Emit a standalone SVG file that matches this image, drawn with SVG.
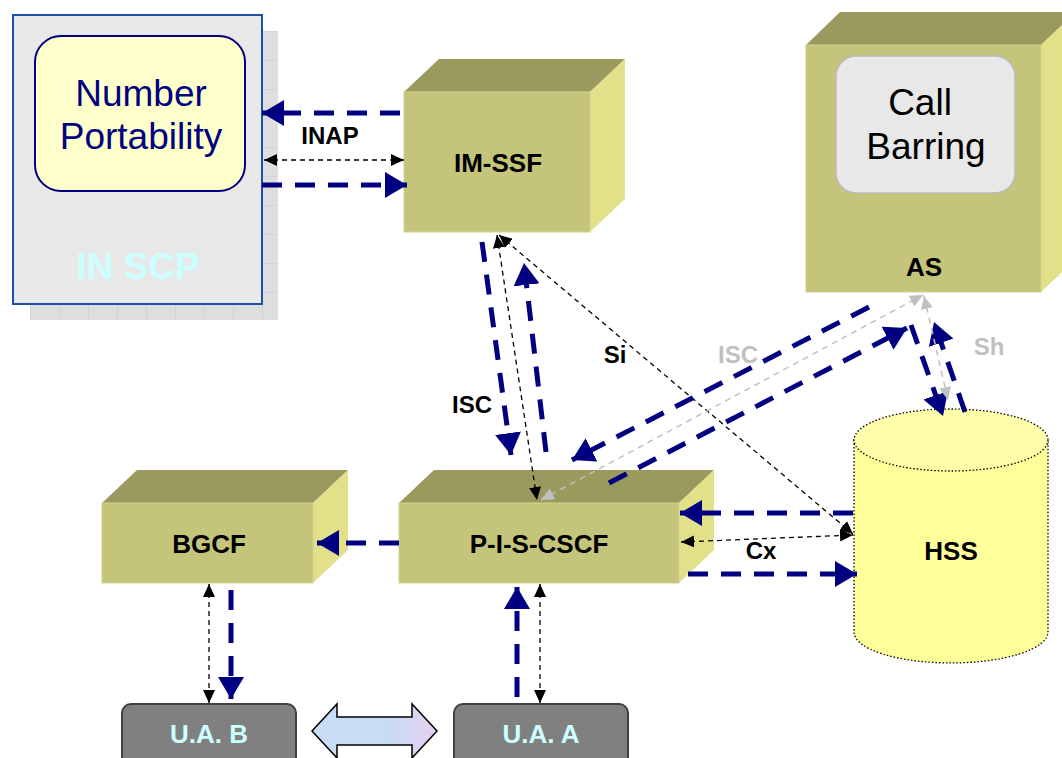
<svg xmlns="http://www.w3.org/2000/svg" width="1062" height="758" viewBox="0 0 1062 758">
<defs>
<style>
.front{fill:#c4c47a;stroke:#d2d290;stroke-width:1}
.top{fill:#9a9a5e}
.side{fill:#e2e18a}
.lbl{font-family:"Liberation Sans",Arial,sans-serif;font-weight:bold;font-size:26px;fill:#000;text-anchor:middle}
.ilbl{font-family:"Liberation Sans",Arial,sans-serif;font-weight:bold;font-size:24px;fill:#000;text-anchor:middle}
.glbl{font-family:"Liberation Sans",Arial,sans-serif;font-weight:bold;font-size:24px;fill:#c0c0c0;text-anchor:middle}
.big{font-family:"Liberation Sans",Arial,sans-serif;font-size:37px;text-anchor:middle}
.navy{stroke:#000080;stroke-width:5;stroke-dasharray:20 13;fill:none;marker-end:url(#an)}
.blk{stroke:#000;stroke-width:1.3;stroke-dasharray:5 4;fill:none;marker-end:url(#ab);marker-start:url(#ab)}
.gry{stroke:#c0c0c0;stroke-width:1.5;stroke-dasharray:6 5;fill:none;marker-end:url(#ag);marker-start:url(#ag)}
.ua{fill:#808080;stroke:#404040;stroke-width:2}
.ualbl{font-family:"Liberation Sans",Arial,sans-serif;font-weight:bold;font-size:26px;fill:#ccffff;text-anchor:middle}
</style>
<marker id="an" markerUnits="userSpaceOnUse" markerWidth="24" markerHeight="26" viewBox="0 0 24 26" refX="22" refY="13" orient="auto"><path d="M0,0 L22,13 L0,26 Z" fill="#000080"/></marker>
<marker id="ab" markerUnits="userSpaceOnUse" markerWidth="14" markerHeight="12" viewBox="0 0 14 12" refX="13" refY="6" orient="auto-start-reverse"><path d="M0,0 L13,6 L0,12 Z" fill="#000"/></marker>
<marker id="ag" markerUnits="userSpaceOnUse" markerWidth="14" markerHeight="12" viewBox="0 0 14 12" refX="13" refY="6" orient="auto-start-reverse"><path d="M0,0 L13,6 L0,12 Z" fill="#c0c0c0"/></marker>
<pattern id="grid" patternUnits="userSpaceOnUse" x="30" y="31" width="29" height="29"><rect width="29" height="29" fill="#dedede"/><path d="M0,0 H29 M0,0 V29" stroke="#c8c8c8" stroke-width="1"/></pattern>
<linearGradient id="dbl" x1="0" y1="0" x2="1" y2="0"><stop offset="0" stop-color="#c8dcf6"/><stop offset="0.6" stop-color="#c8dcf4"/><stop offset="1" stop-color="#e4d0f0"/></linearGradient>
</defs>

<g id="in-scp">
<rect x="30" y="31" width="248" height="289" fill="url(#grid)"/>
<rect x="13" y="15" width="249" height="289" fill="#e8e8e8" stroke="#1f4fa8" stroke-width="2"/>
<text x="138" y="279" font-family="Liberation Sans, Arial, sans-serif" font-weight="bold" font-size="37" fill="#ccffff" text-anchor="middle">IN SCP</text>
</g>
<g id="number-portability">
<rect x="35" y="36" width="210" height="155" rx="26" fill="#ffffcc" stroke="#000080" stroke-width="2"/>
<text class="big" x="141" y="106" fill="#000080">Number</text>
<text class="big" x="141" y="149" fill="#000080">Portability</text>
</g>

<g id="im-ssf">
<polygon class="top" points="404,92 439,59 625,59 590,92"/>
<polygon class="side" points="590,92 625,59 625,199 590,232"/>
<rect class="front" x="404" y="92" width="186" height="140"/>
<text class="lbl" x="498" y="172">IM-SSF</text>
</g>

<g id="as">
<polygon class="top" points="806,45 840,12 1076,12 1041,45"/>
<polygon class="side" points="1041,45 1076,12 1076,259 1041,292"/>
<rect class="front" x="806" y="45" width="235" height="247"/>
<text class="lbl" x="924" y="276">AS</text>
</g>
<g id="call-barring">
<rect x="836" y="56" width="179" height="137" rx="20" fill="#e8e8e8" stroke="#bbbbbb" stroke-width="1.5"/>
<text class="big" x="920" y="115" fill="#000">Call</text>
<text class="big" x="926" y="159" fill="#000">Barring</text>
</g>

<g id="bgcf">
<polygon class="top" points="102,503 137,470 348,470 313,503"/>
<polygon class="side" points="313,503 348,470 348,550 313,583"/>
<rect class="front" x="102" y="503" width="211" height="80"/>
<text class="lbl" x="209" y="553">BGCF</text>
</g>

<g id="p-i-s-cscf">
<polygon class="top" points="399,503 434,470 714,470 679,503"/>
<polygon class="side" points="679,503 714,470 714,550 679,583"/>
<rect class="front" x="399" y="503" width="280" height="80"/>
<text class="lbl" x="539" y="553">P-I-S-CSCF</text>
</g>

<g id="hss">
<path d="M854,440 V632 A97,31 0 0 0 1048,632 V440 Z" fill="#ffff99" stroke="#000" stroke-width="1.3" stroke-dasharray="1.5 2"/>
<ellipse cx="951" cy="440" rx="97" ry="31" fill="#ffffaa" stroke="#000" stroke-width="1.3" stroke-dasharray="1.5 2"/>
<text class="lbl" x="951" y="560">HSS</text>
</g>

<g id="ua-b">
<rect class="ua" x="122" y="704" width="174" height="62" rx="9"/>
<text class="ualbl" x="209" y="743">U.A. B</text>
</g>
<g id="ua-a">
<rect class="ua" x="454" y="704" width="174" height="62" rx="9"/>
<text class="ualbl" x="541" y="743">U.A. A</text>
</g>

<g id="connectors">
<line class="navy" x1="400" y1="113" x2="262" y2="113"/>
<line class="blk" x1="264" y1="160" x2="404" y2="160"/>
<line class="navy" x1="262" y1="185" x2="407" y2="185"/>
<line class="navy" x1="482" y1="242" x2="511" y2="455"/>
<line class="navy" x1="546" y1="452" x2="524" y2="263"/>
<line class="blk" x1="497" y1="235" x2="537" y2="500"/>
<line class="blk" x1="499" y1="235" x2="853" y2="534"/>
<line class="navy" x1="869" y1="307" x2="572" y2="460"/>
<line class="navy" x1="609" y1="483" x2="907" y2="328"/>
<line class="gry" x1="541" y1="500" x2="923" y2="295"/>
<line class="navy" x1="911" y1="325" x2="943" y2="416"/>
<line class="navy" x1="965" y1="412" x2="934" y2="322"/>
<line class="gry" x1="924" y1="296" x2="948" y2="400"/>
<line class="navy" x1="853" y1="513" x2="680" y2="513"/>
<line class="blk" x1="681" y1="542" x2="853" y2="535"/>
<line class="navy" x1="688" y1="574" x2="857" y2="574"/>
<line class="navy" x1="399" y1="543" x2="317" y2="543"/>
<line class="blk" x1="209" y1="584" x2="209" y2="703"/>
<line class="navy" x1="231" y1="590" x2="231" y2="699"/>
<line class="navy" x1="517" y1="697" x2="517" y2="587"/>
<line class="blk" x1="540" y1="584" x2="540" y2="703"/>
<path d="M312,731 L337,704 L337,717 L412,717 L412,704 L437,731 L412,758 L412,745 L337,745 L337,758 Z" fill="url(#dbl)" stroke="#000" stroke-width="1.5"/>
</g>

<g id="labels">
<text class="ilbl" x="330" y="144">INAP</text>
<text class="ilbl" x="472" y="413">ISC</text>
<text class="ilbl" x="615" y="363">Si</text>
<text class="glbl" x="738" y="363">ISC</text>
<text class="glbl" x="989" y="355">Sh</text>
<text class="ilbl" x="761" y="559">Cx</text>
</g>
</svg>
